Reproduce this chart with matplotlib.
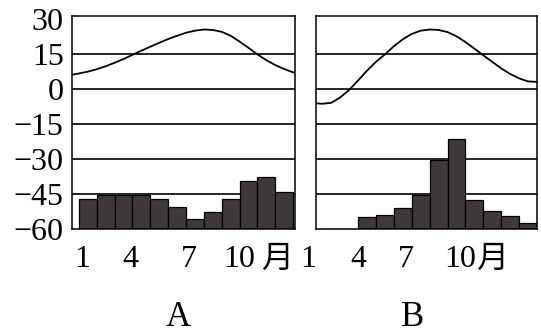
import numpy as np
import matplotlib.pyplot as plt

plt.rcParams['font.family'] = ['Liberation Serif', 'Noto Sans CJK SC']
plt.rcParams['axes.unicode_minus'] = True

# Months for the bars
months = np.arange(1, 13)

# Precipitation bars, as height above the -60 baseline (chart units)
precip_a = [12.9, 14.8, 14.6, 14.5, 12.9, 9.5, 4.3, 7.3, 13.0, 20.8, 22.2, 15.9]
precip_b = [0, 0, 5.0, 6.2, 9.0, 14.5, 29.8, 38.7, 12.3, 7.9, 5.7, 2.6]

# Temperature curves, read at half-month steps
temp_x_a = [0.12, 0.5, 1.0, 1.5, 2.0, 2.5, 3.0, 3.5, 4.0, 4.5, 5.0, 5.5, 6.0, 6.5,
            7.0, 7.5, 8.0, 8.5, 9.0, 9.5, 10.0, 10.5, 11.0, 11.5, 12.0, 12.5, 12.6]
temp_a = [6.3, 6.8, 7.6, 8.6, 9.9, 11.4, 13.0, 14.8, 16.6, 18.3, 20.0, 21.6, 23.0, 24.3,
          25.2, 25.7, 25.5, 24.7, 23.0, 20.5, 17.8, 15.0, 12.5, 10.4, 8.7, 7.3, 7.1]
temp_x_b = [0.15, 0.5, 1.0, 1.5, 2.0, 2.5, 3.0, 3.5, 4.0, 4.5, 5.0, 5.5, 6.0, 6.5,
            7.0, 7.5, 8.0, 8.5, 9.0, 9.5, 10.0, 10.5, 11.0, 11.5, 12.0, 12.5]
temp_b = [-6.0, -6.2, -5.8, -3.5, -0.3, 3.8, 8.0, 11.8, 15.0, 18.5, 21.5, 23.8, 25.2, 25.7,
          25.5, 24.6, 22.8, 20.3, 17.5, 14.6, 11.8, 9.0, 6.6, 4.7, 3.4, 3.2]

y_ticks = [30, 15, 0, -15, -30, -45, -60]
grid_vals = [15, 0, -15, -30, -45]
x_labels = ['1', '4', '7', '10', '月']
x_pos_a = [0.047, 0.26, 0.525, 0.749, 0.919]   # axes fraction
x_pos_b = [-0.036, 0.19, 0.407, 0.652, 0.796]
panel_names = ['A', 'B']

BAR_COLOR = '#403939'


def draw_panel(ax, xlim, precip, tx, ty, xpos):
    ax.set_xlim(*xlim)
    ax.set_ylim(-60, 31.5)
    for g in grid_vals:
        ax.axhline(g, color='black', lw=1.2, zorder=1)
    ax.bar(months, precip, bottom=-60, width=1.0, color=BAR_COLOR,
           edgecolor='black', linewidth=0.9, zorder=2)
    ax.plot(tx, ty, color='black', lw=1.3, zorder=3)
    for s in ax.spines.values():
        s.set_linewidth(1.1)
    ax.set_xticks([])
    for p, lab in zip(xpos, x_labels):
        ax.text(p, -0.145, lab, transform=ax.transAxes, ha='center', va='center',
                fontsize=23, clip_on=False)


def main():
    fig = plt.figure(figsize=(5.41, 3.32), dpi=100)
    ax_a = fig.add_axes([72 / 541, 103 / 332, 223 / 541, 213 / 332])
    ax_b = fig.add_axes([316 / 541, 103 / 332, 221 / 541, 213 / 332])

    draw_panel(ax_a, (0.12, 12.6), precip_a, temp_x_a, temp_a, x_pos_a)
    draw_panel(ax_b, (0.15, 12.5), precip_b, temp_x_b, temp_b, x_pos_b)

    ax_a.set_yticks(y_ticks)
    ax_a.set_yticklabels([str(v).replace('-', '\u2212') for v in y_ticks], fontsize=23)
    ax_a.tick_params(axis='y', length=0, pad=6)
    ax_b.set_yticks([])

    fig.text(178 / 541, 15 / 332, panel_names[0], ha='center', va='center', fontsize=25)
    fig.text(413 / 541, 15 / 332, panel_names[1], ha='center', va='center', fontsize=25)

    fig.savefig('out.png', dpi=100)


if __name__ == "__main__":
    main()
